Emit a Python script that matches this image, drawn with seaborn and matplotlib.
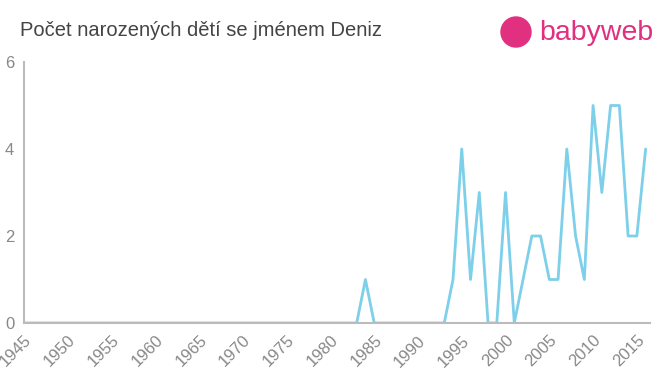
import matplotlib
matplotlib.use("Agg")
import matplotlib.pyplot as plt
import seaborn as sns
import pandas as pd
import numpy as np

years = list(range(1945, 2017))
nonzero = {1984: 1, 1994: 1, 1995: 4, 1996: 1, 1997: 3, 2000: 3, 2002: 1,
           2003: 2, 2004: 2, 2005: 1, 2006: 1, 2007: 4, 2008: 2, 2009: 1,
           2010: 5, 2011: 3, 2012: 5, 2013: 5, 2014: 2, 2015: 2, 2016: 4}
counts = [nonzero.get(y, 0) for y in years]
xticks = list(range(1945, 2016, 5))
yticks = [0, 2, 4, 6]
title = "Počet narozených dětí se jménem Deniz"

sns.set_style("white")
plt.rcParams['font.family'] = ['Liberation Sans', 'DejaVu Sans']

fig = plt.figure(figsize=(6.6, 3.75), dpi=100)
ax = fig.add_axes([24/660, 52/375, 626/660, 261/375])
df = pd.DataFrame({"year": years, "count": counts})
sns.lineplot(data=df, x="year", y="count", ax=ax, color="#7dcfea", linewidth=2)

ax.set_xlim(1945, 2016.5)
ax.set_ylim(0, 6)
ax.set_xticks(xticks)
ax.set_yticks(yticks)
ax.set_xticklabels([str(t) for t in xticks], rotation=45, ha="right",
                   rotation_mode="anchor", fontsize=12, color="#888888")
ax.set_yticklabels([str(t) for t in yticks], fontsize=12, color="#888888")
ax.set_xlabel("")
ax.set_ylabel("")
for s in ["top", "right"]:
    ax.spines[s].set_visible(False)
for s in ["left", "bottom"]:
    ax.spines[s].set_color("#bbbbbb")
    ax.spines[s].set_linewidth(1.5)
ax.tick_params(axis="both", length=5, width=1, color="#bbbbbb", pad=2)
ax.grid(False)

fig.text(20/660, 1 - 31/375, title, fontsize=14.5, color="#444444", va="center", ha="left")

# logo
fig.patches.append(matplotlib.patches.Ellipse((516/660, 1 - 32/375), 30/660, 30/375,
                   transform=fig.transFigure, color="#e0307f", figure=fig))
fig.text(539/660, 1 - 33/375, "babyweb", fontsize=20.5, color="#e0307f",
         va="center", ha="left")

fig.savefig("out.png", dpi=100)
